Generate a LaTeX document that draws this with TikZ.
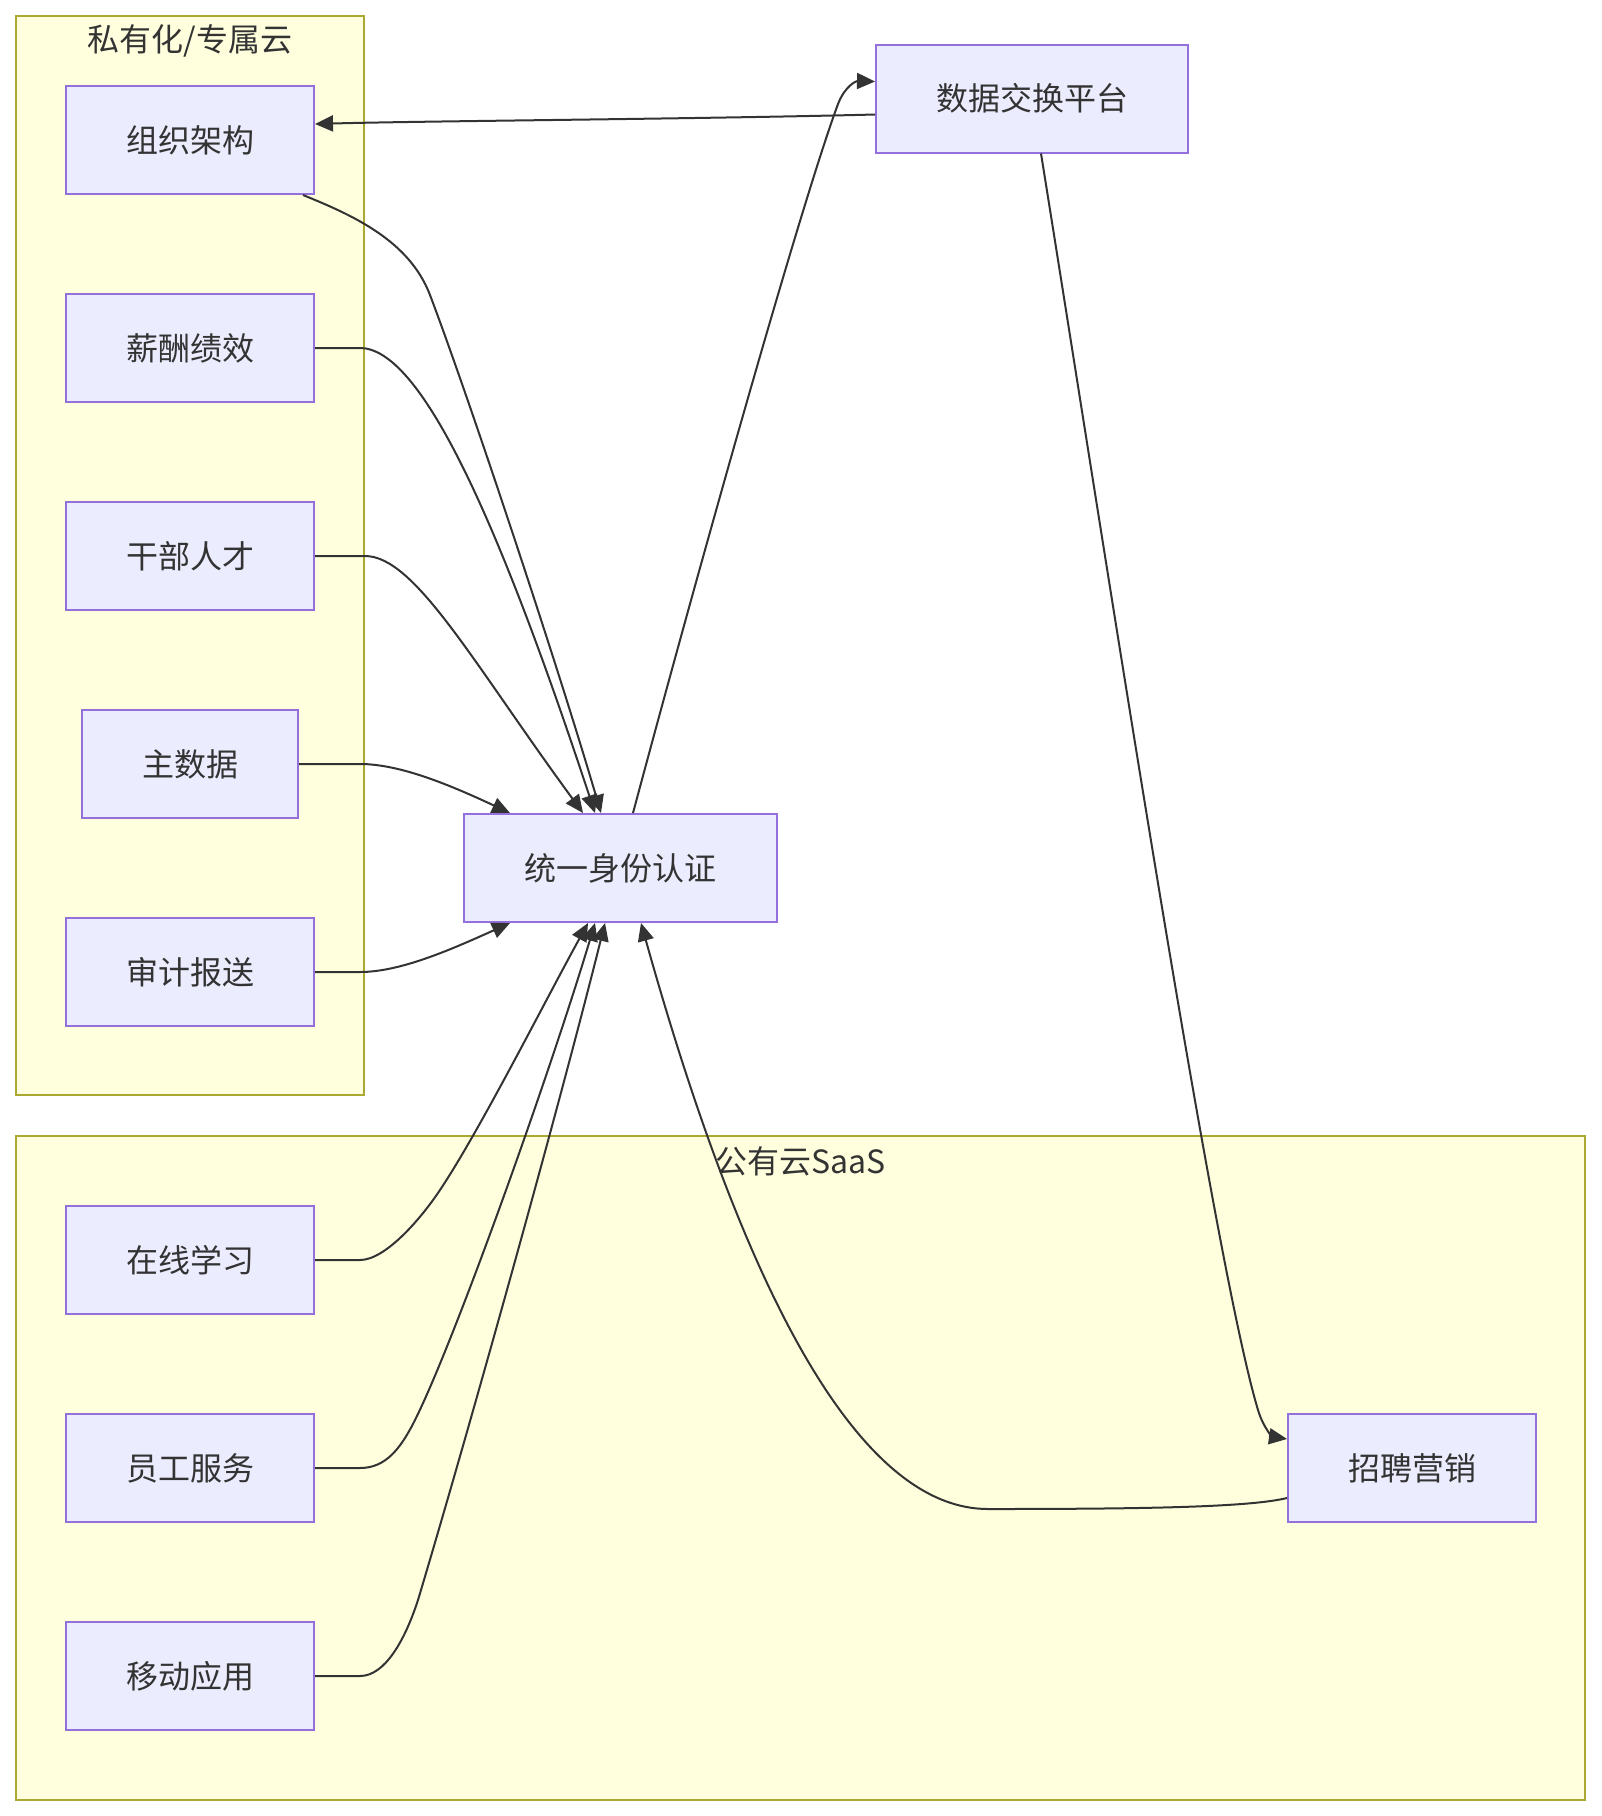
\documentclass[tikz,border=0pt]{standalone}
\usepackage{fontspec}
\newfontfamily\cjk{Noto Sans CJK SC}
\usetikzlibrary{arrows.meta,calc}
\definecolor{nodefill}{HTML}{ECECFF}
\definecolor{nodeline}{HTML}{9370DB}
\definecolor{clfill}{HTML}{FFFFDE}
\definecolor{clline}{HTML}{AAAA33}
\definecolor{txt}{HTML}{333333}
\begin{document}
\begin{tikzpicture}[x=1pt,y=-1pt,
  box/.style={draw=nodeline, fill=nodefill, line width=2pt, minimum width=248pt, minimum height=108pt, inner sep=0pt, font=\cjk\fontsize{32}{38}\selectfont, text=txt},
  cluster/.style={draw=clline, fill=clfill, line width=2pt, inner sep=0pt},
  ctitle/.style={font=\cjk\fontsize{32}{38}\selectfont, text=txt, inner sep=0pt},
  link/.style={draw=txt, line width=2pt, -{Triangle[length=18pt,width=16pt]}}
]
\useasboundingbox (0,0) rectangle (1602,1816);
\fill[white] (0,0) rectangle (1602,1816);
% clusters
\node[cluster, minimum width=348pt, minimum height=1079pt] (priv) at (190,555.5) {};
\node[cluster, minimum width=1569pt, minimum height=664pt] (pub) at (800.5,1468) {};
\node[ctitle] (privt) at (190,41) {私有化/专属云};
\node[ctitle] (pubt) at (800.5,1161) {公有云SaaS};
% nodes
\node[box] (org) at (190,140) {组织架构};
\node[box] (pay) at (190,348) {薪酬绩效};
\node[box] (cadre) at (190,556) {干部人才};
\node[box, minimum width=216pt] (mdata) at (190,764) {主数据};
\node[box] (audit) at (190,972) {审计报送};
\node[box, minimum width=313pt] (auth) at (620,868) {统一身份认证};
\node[box, minimum width=312pt] (data) at (1032,98.5) {数据交换平台};
\node[box] (learn) at (190,1260) {在线学习};
\node[box] (emp) at (190,1468) {员工服务};
\node[box] (mobile) at (190,1676) {移动应用};
\node[box] (recruit) at (1412,1468) {招聘营销};
% endpoints
\coordinate (e1s) at ($(data.west)+(0,16)$);
\coordinate (e1e) at ($(org.east)+(0,-16)$);
\coordinate (e2s) at ($(org.south east)+(-12,0)$);
\coordinate (e2e) at ($(auth.north)+(-19,0)$);
\coordinate (e3e) at ($(auth.north)+(-25,0)$);
\coordinate (e4e) at ($(auth.north)+(-37,0)$);
\coordinate (e5e) at ($(auth.north)+(-110,0)$);
\coordinate (e6e) at ($(auth.south)+(-110,0)$);
\coordinate (e7e) at ($(auth.south)+(-32,0)$);
\coordinate (e8e) at ($(auth.south)+(-25,0)$);
\coordinate (e9e) at ($(auth.south)+(-15,0)$);
\coordinate (e10s) at ($(recruit.west)+(0,30)$);
\coordinate (e10e) at ($(auth.south)+(21,0)$);
\coordinate (e11s) at ($(auth.north)+(13,0)$);
\coordinate (e11e) at ($(data.west)+(0,-17)$);
\coordinate (e12s) at ($(data.south)+(9,0)$);
\coordinate (e12e) at ($(recruit.west)+(0,-29)$);
% edges
\draw[link] (e1s) .. controls (700,119) and (420,121) .. (e1e);
\draw[link] (e2s) .. controls (352,215) and (409,240) .. (430,295)
  .. controls (468,395) and (557,663) .. (e2e);
\draw[link] (pay.east) -- (360,348) .. controls (420,348) and (496,513) .. (e3e);
\draw[link] (cadre.east) -- (365,556) .. controls (415,556) and (473,663) .. (e4e);
\draw[link] (mdata.east) -- (360,764) .. controls (400,764) and (450,785) .. (e5e);
\draw[link] (audit.east) -- (360,972) .. controls (400,972) and (450,950) .. (e6e);
\draw[link] (learn.east) -- (360,1260) .. controls (385,1260) and (420,1220) .. (440,1190)
  .. controls (480,1130) and (544,1003) .. (e7e);
\draw[link] (emp.east) -- (360,1468) .. controls (385,1468) and (400,1450) .. (415,1420)
  .. controls (455,1340) and (550,1073) .. (e8e);
\draw[link] (mobile.east) -- (360,1676) .. controls (385,1676) and (405,1640) .. (418,1600)
  .. controls (463,1450) and (555,1123) .. (e9e);
\draw[link] (e10s) .. controls (1250,1507) and (1150,1509) .. (988,1509)
  .. controls (868,1509) and (753,1323) .. (e10e);
\draw[link] (e11s) .. controls (700,563) and (801,204) .. (838,104)
  .. controls (845,86) and (856,81) .. (e11e);
\draw[link] (e12s) .. controls (1105,552) and (1213,1260) .. (1258,1410)
  .. controls (1264,1430) and (1274,1437) .. (e12e);
\end{tikzpicture}
\end{document}
